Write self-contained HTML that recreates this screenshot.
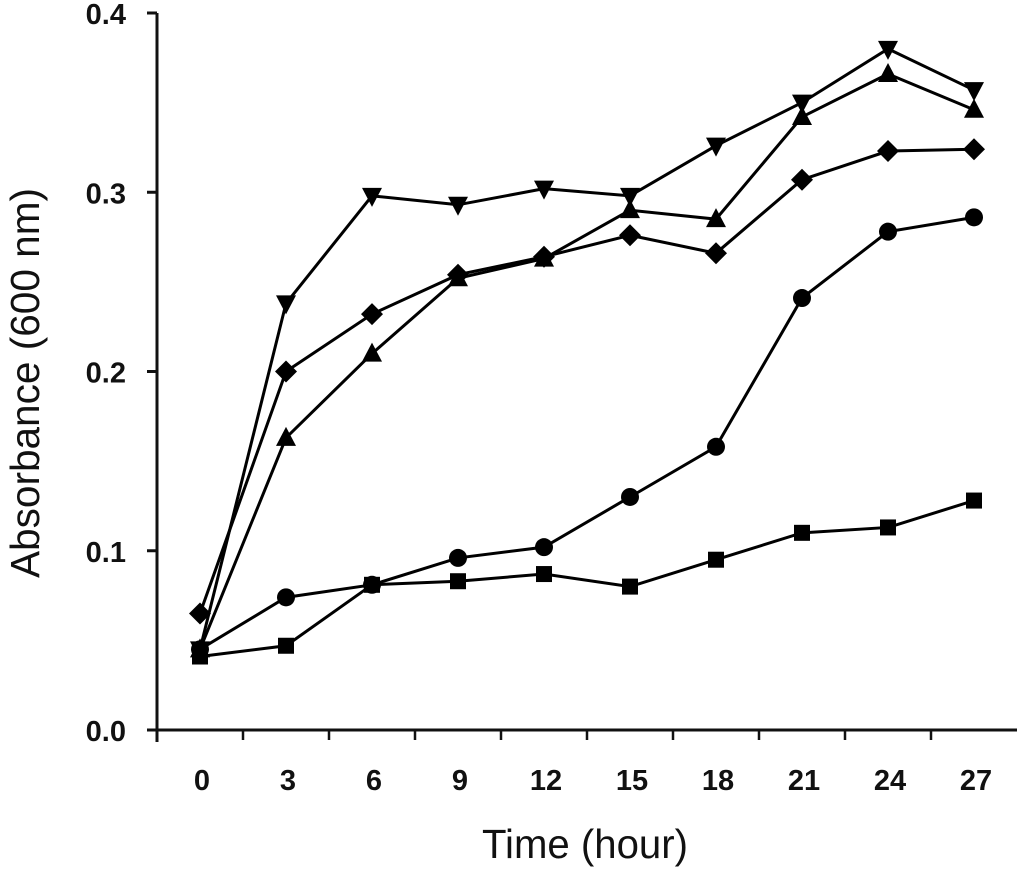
<!DOCTYPE html>
<html><head><meta charset="utf-8"><style>
html,body{margin:0;padding:0;background:#fff;width:1024px;height:870px;overflow:hidden}
svg{display:block}
.tick{font-family:"Liberation Sans",sans-serif;font-weight:bold;font-size:29px;fill:#111}
.title{font-family:"Liberation Sans",sans-serif;font-size:41px;fill:#111}
</style></head><body>
<svg id="chart" width="1024" height="870" viewBox="0 0 1024 870" xmlns="http://www.w3.org/2000/svg">
<g id="axes"></g>
<g id="series"></g>
<text class="title" x="482" y="858" textLength="206" lengthAdjust="spacingAndGlyphs">Time (hour)</text>
<text class="title" transform="translate(39,578) rotate(-90)" textLength="390" lengthAdjust="spacingAndGlyphs">Absorbance (600 nm)</text>
</svg>
<script>
const categories = ["0","3","6","9","12","15","18","21","24","27"];
const yTicks = [0.0, 0.1, 0.2, 0.3, 0.4];
const yTickLabels = ["0.0","0.1","0.2","0.3","0.4"];
const seriesInvTriangle = [0.045,0.238,0.298,0.293,0.302,0.298,0.326,0.350,0.380,0.357];
const seriesTriangle = [0.045,0.163,0.210,0.252,0.263,0.290,0.285,0.342,0.366,0.346];
const seriesDiamond = [0.065,0.200,0.232,0.254,0.264,0.276,0.266,0.307,0.323,0.324];
const seriesCircle = [0.045,0.074,0.081,0.096,0.102,0.130,0.158,0.241,0.278,0.286];
const seriesSquare = [0.041,0.047,0.081,0.083,0.087,0.080,0.095,0.110,0.113,0.128];

const NS="http://www.w3.org/2000/svg";
const x0=157, bandW=86, yBase=730, yTop=13, yMax=0.4;
function xPos(i){return x0+bandW*(i+0.5);}
function yPos(v){return yBase-(v/yMax)*(yBase-yTop);}
function mk(tag,attrs,parent){const e=document.createElementNS(NS,tag);for(const k in attrs)e.setAttribute(k,attrs[k]);parent.appendChild(e);return e;}
const axes=document.getElementById('axes');
const ya=mk('line',{x1:x0,y1:yTop,x2:x0,y2:yBase+12,stroke:'#111','stroke-width':3},axes);


const xa=mk('line',{x1:x0-9,y1:yBase,x2:x0+bandW*categories.length,y2:yBase,stroke:'#111','stroke-width':3},axes);


yTicks.forEach((v,i)=>{
  const y=yPos(v);
  const t=mk('line',{x1:x0-10,y1:y,x2:x0,y2:y,stroke:'#111','stroke-width':3},axes);
  
  
  const l=mk('text',{x:126,y:y+11,'text-anchor':'end',class:'tick'},axes);
  l.textContent=yTickLabels[i];
  
  
});
categories.forEach((c,i)=>{
  if(i>0){
    const xt=x0+bandW*i;
    const t=mk('line',{x1:xt,y1:yBase,x2:xt,y2:yBase+10,stroke:'#111','stroke-width':2.5},axes);
    
    
  }
  const l=mk('text',{x:xPos(i)+2,y:790,'text-anchor':'middle',class:'tick'},axes);
  l.textContent=c;
  
  
});
const sg=document.getElementById('series');
function marker(type,cx,cy,g){
  let e;
  if(type==='square') e=mk('rect',{x:cx-8,y:cy-8,width:16,height:16,fill:'#000'},g);
  else if(type==='circle') e=mk('circle',{cx:cx,cy:cy,r:9,fill:'#000'},g);
  else if(type==='diamond') e=mk('polygon',{points:`${cx},${cy-11} ${cx+11},${cy} ${cx},${cy+11} ${cx-11},${cy}`,fill:'#000'},g);
  else if(type==='triangle') e=mk('polygon',{points:`${cx},${cy-11} ${cx+10},${cy+8} ${cx-10},${cy+8}`,fill:'#000'},g);
  else e=mk('polygon',{points:`${cx-10},${cy-8} ${cx+10},${cy-8} ${cx},${cy+11}`,fill:'#000'},g);
  return e;
}
const allSeries=[['square',seriesSquare],['circle',seriesCircle],['diamond',seriesDiamond],['triangle',seriesTriangle],['inv-triangle',seriesInvTriangle]];
allSeries.forEach(([type,vals])=>{
  const g=mk('g',{},sg);
  
  
  const p=mk('polyline',{points:vals.map((v,i)=>xPos(i)+','+yPos(v)).join(' '),fill:'none',stroke:'#000','stroke-width':3},g);
  
  
  vals.forEach((v,i)=>{
    const m=marker(type,xPos(i),yPos(v),g);
    
    
  });
});
</script>
</body></html>
